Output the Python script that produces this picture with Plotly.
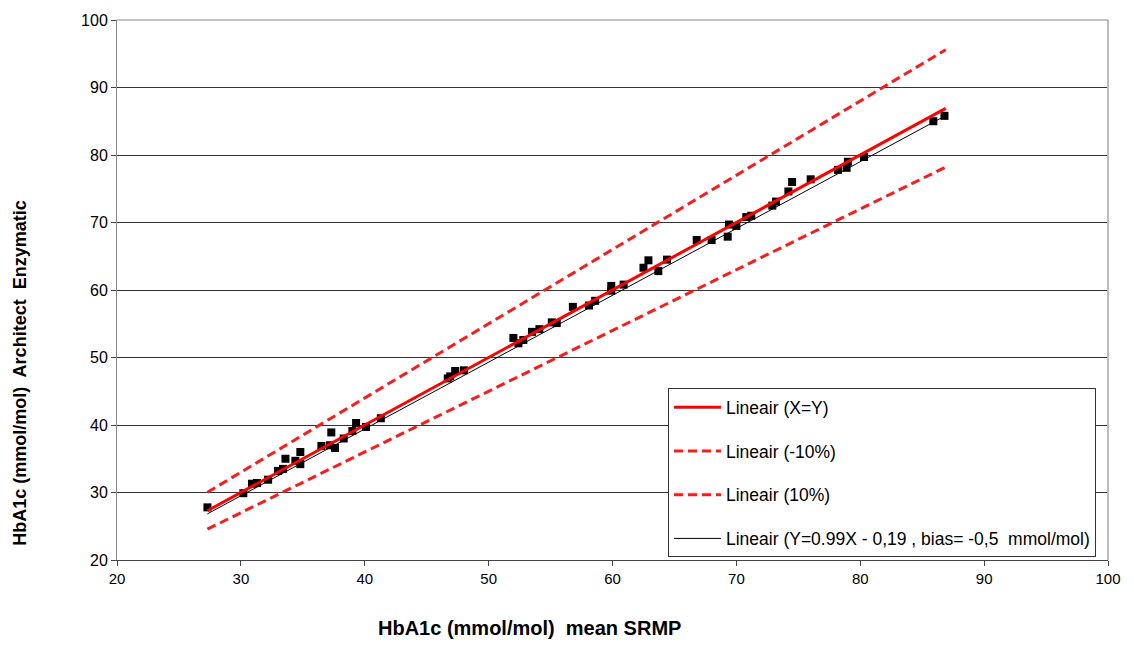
import plotly.graph_objects as go

# Data points (mean SRMP, Architect Enzymatic)
srmp = [27.3, 30.2, 30.9, 31.3, 32.2, 33.0, 33.4, 33.6, 34.4, 34.8, 34.8, 36.5, 37.2, 37.3,
        37.6, 38.3, 39.0, 39.3, 40.1, 41.3,
        46.7, 46.9, 47.3, 48.0, 52.0, 52.4, 52.8, 53.5, 54.1, 55.1, 55.5, 56.8, 58.1, 58.6,
        59.9, 59.9, 60.9, 62.5, 62.9, 63.7, 64.4,
        66.8, 68.0, 69.3, 69.4, 70.0, 70.8, 71.2, 72.9, 73.2, 74.2, 74.5, 76.0, 78.2, 78.9,
        79.0, 80.3, 85.9, 86.8]
architect = [27.8, 29.9, 31.3, 31.4, 31.9, 33.2, 33.5, 35.0, 34.7, 36.0, 34.2, 36.9, 37.0, 38.9,
             36.6, 38.0, 39.1, 40.3, 39.7, 41.0,
             46.9, 47.2, 48.0, 48.1, 52.9, 52.1, 52.6, 53.8, 54.2, 55.2, 55.1, 57.5, 57.7, 58.4,
             60.6, 59.9, 60.8, 63.3, 64.4, 62.8, 64.5,
             67.4, 67.4, 67.9, 69.7, 69.5, 70.8, 71.0, 72.5, 73.1, 74.6, 76.0, 76.4, 77.8, 78.1,
             79.0, 79.7, 85.0, 85.8]

line_x = [27.3, 86.9]
slope, intercept = 0.99, -0.19

fig = go.Figure()

fig.add_trace(go.Scatter(x=srmp, y=architect, mode="markers", showlegend=False,
                         marker=dict(symbol="square", size=8, color="black")))

fig.add_trace(go.Scatter(x=line_x, y=[slope * v + intercept for v in line_x], mode="lines",
                         name="Lineair (Y=0.99X - 0,19 , bias= -0,5  mmol/mol)",
                         line=dict(color="black", width=1), legendrank=4, legendgroup="d"))
fig.add_trace(go.Scatter(x=line_x, y=[0.9 * v for v in line_x], mode="lines",
                         name="Lineair (-10%)", legendrank=2, legendgroup="b",
                         line=dict(color="#ff1a1a", width=3, dash="9px,5px")))
fig.add_trace(go.Scatter(x=line_x, y=[1.1 * v for v in line_x], mode="lines",
                         name="Lineair (10%)", legendrank=3, legendgroup="c",
                         line=dict(color="#ff1a1a", width=3, dash="9px,5px")))
fig.add_trace(go.Scatter(x=line_x, y=line_x, mode="lines", name="Lineair (X=Y)",
                         legendrank=1, legendgroup="a",
                         line=dict(color="#ff0000", width=3)))

fig.update_layout(
    width=1134, height=646,
    margin=dict(l=117, r=26, t=15, b=86),
    plot_bgcolor="white", paper_bgcolor="white",
    font=dict(family="Liberation Sans, Arial, sans-serif", color="black", size=14),
    xaxis=dict(range=[20, 100], dtick=10, showgrid=False, zeroline=False,
               showline=True, linecolor="#444", linewidth=1,
               ticks="outside", ticklen=5, tickcolor="#444",
               tickfont=dict(size=15)),
    yaxis=dict(range=[20, 100], dtick=10, showgrid=True, gridcolor="#333", gridwidth=1,
               zeroline=False, showline=True, linecolor="#888", linewidth=1,
               ticks="outside", ticklen=5, tickcolor="#444",
               tickfont=dict(size=16)),
    legend=dict(x=0.556, y=0.318, xanchor="left", yanchor="top",
                bgcolor="white", bordercolor="#333", borderwidth=1,
                tracegroupgap=18, font=dict(size=17.5), itemwidth=47,
                traceorder="grouped"),
    shapes=[dict(type="line", xref="paper", yref="paper", x0=1, x1=1, y0=0, y1=1,
                 line=dict(color="#bbbbbb", width=2)),
            dict(type="line", xref="paper", yref="paper", x0=0, x1=1, y0=1, y1=1,
                 line=dict(color="#888888", width=1))],
    annotations=[
        dict(text="<b>HbA1c (mmol/mol)  mean SRMP</b>", xref="paper", yref="paper",
             x=(529 - 117) / 991, y=-0.125, xanchor="center", yanchor="middle",
             showarrow=False, font=dict(size=20)),
        dict(text="<b>HbA1c (mmol/mol)  Architect  Enzymatic</b>", xref="paper", yref="paper",
             x=(20 - 117) / 991, y=(560 - 372) / 545, xanchor="center", yanchor="middle",
             textangle=-90, showarrow=False, font=dict(size=18)),
    ],
)

fig.write_html("out.html")
